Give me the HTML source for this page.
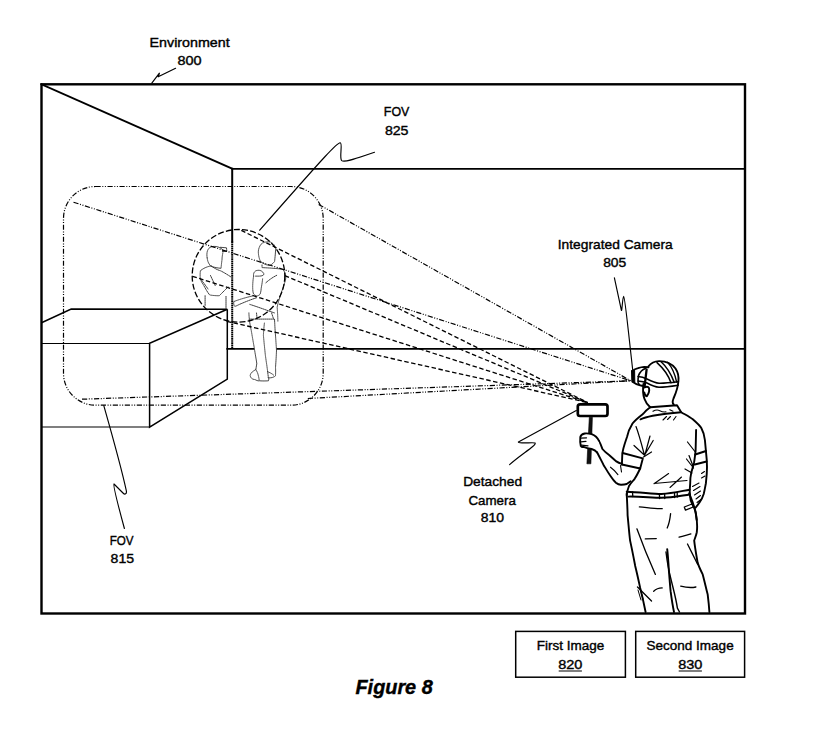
<!DOCTYPE html>
<html>
<head>
<meta charset="utf-8">
<style>
html,body{margin:0;padding:0;background:#fff;}
body{width:823px;height:741px;overflow:hidden;}
svg{display:block;}
text{font-family:"Liberation Sans",sans-serif;fill:#000;stroke:#000;stroke-width:0.4;}
</style>
</head>
<body>
<svg width="823" height="741" viewBox="0 0 823 741">
<rect x="0" y="0" width="823" height="741" fill="#fff"/>

<!-- room structure -->
<g fill="none" stroke="#000" stroke-linecap="square">
  <rect x="41.5" y="84.3" width="703.5" height="529.2" stroke-width="2.4"/>
  <path d="M41.5,84.3 L232.3,168.8" stroke-width="2"/>
  <path d="M232.3,168.8 L745,168.8" stroke-width="1.8"/>
  <path d="M232.2,168.8 L232.2,241.5" stroke-width="2"/>
  <path d="M232.2,241.5 L232.2,348" stroke-width="2" stroke-dasharray="1.6 0.5" stroke-linecap="butt"/>
  <path d="M227.3,348.9 L745,348.9" stroke-width="1.9"/>
</g>

<!-- box -->
<g fill="none" stroke="#000" stroke-width="1.5" stroke-linejoin="miter">
  <path d="M41.5,322.8 L71.2,309.1 L227.3,309.3 L149.6,343.2 L149.6,427.1 L227.3,379.2 L227.3,309.3"/>
  <path d="M41.5,343.5 L149.6,343.5" stroke-width="1.2"/>
  <path d="M41.5,427 L149.6,427" stroke-width="1.2"/>
</g>

<!-- people inside FOV 825 (dotted) -->
<g fill="none" stroke="#333" stroke-width="0.95" stroke-dasharray="1.1 0.9" stroke-linecap="round" stroke-linejoin="round">
  <path d="M207.2,257.9 C206.5,254 207,250.5 209,248.2 C211,246.3 215,245.6 219.8,247.6 C222,248.5 223.3,250 222.8,253 C222.3,256 222,258 222.1,259 C221.5,263 221.3,266 221,268.3 C217,268 213,267 210.6,266 C208.5,263.5 207.5,261 207.2,257.9"/>
  <path d="M220.5,247.3 L226.5,247.8 L226.8,251.5 L222.5,251.5"/>
  <path d="M211.2,266 C207,266.5 203,268.5 200.4,270.8 C200,274 200.1,277 200.4,278.9 C201,281 202,283 203.1,284.3 C205.5,288.5 207.5,292.5 209.8,295 C213,295.5 216.5,295.8 219.3,295.7 C222,293 225,290 228,287"/>
  <path d="M211.2,266 C214,268 217.5,270 220.6,270.8 C224,272.5 228,275 230.7,276.8"/>
  <path d="M205.1,295.7 L205.1,305.8 M226,296.4 L226,308.5"/>
  <path d="M210.5,275.5 L215.2,285.6 M200.5,279 C203,282 206,286 208,289"/>
  <!-- right person -->
  <path d="M258.4,253.2 C258,250 259.5,245 262.4,243.1 C265,241.8 268,241.6 270.5,242.1 C273.5,243.5 275.5,246 275.6,249.2 C275.5,253 275,257.5 274.6,261.4 C273,263.5 271.5,264.8 269.5,265.4 C266,265 263,263.5 260.4,261.4 C259.2,258.5 258.6,256 258.4,253.2"/>
  <path d="M262,265 L262.1,267.6 C270,268 278,268.5 282.9,269.4 C285,272 286,275.5 285.7,278.9 C285,282 284,285 282.9,288.3 C281.5,292 280,296 279.1,299.7 C278.3,302 277.6,305 277.2,307.2 C277.5,312 277.8,317 277.9,322"/>
  <path d="M253.6,276.1 C253,273 255,270.5 257.4,270.4 C259.5,270 262.5,270.5 264,274.2 C263,276 261,276.3 254.6,276.1"/>
  <path d="M253.6,276.1 C253,280 252.6,284 252.7,288.3 C252.8,290.5 253,292.5 253.6,294 C254.5,295 256,296 257.4,295.9 C258.5,295.5 259.5,295 260.2,294 C260.8,292 261.1,290 261.2,288.3 C261.8,285 262.3,282 262.6,278.9"/>
  <path d="M252.7,295.9 C246,297.5 239,299.5 233.8,301.6 C233.5,303.5 233.8,305.3 234.7,306.3 C236,306.2 237.5,305.3 239.4,304.4 C245,302 251,299.5 256.5,297.8"/>
  <path d="M249.8,304.4 C258,307 266,310 274.4,312.9 M248.9,312.9 C249,316 249.3,319 249.8,322.4 M256.5,313 L257.4,322 C262,322.5 266,322.5 270,322 M271.6,313 L274.4,321.5"/>
  <path d="M265.9,282.7 C269,280 273,277 277.2,275.1"/>
  <path d="M249.2,319.1 C249.8,323 250.5,327 251.2,330.2 C252.2,336 253.2,342 254.2,347.4 C255,353 256,358 256.8,363.6 L255.8,369.7 C253,371 250.5,373 250.2,375.5 C250.5,378 252.5,379.5 255,379.5 C256.5,380.5 258,381 259.3,380.8 C262.5,381 265.5,381 268.4,380.8 C269,379 268.8,378.3 268.4,377.8 C271,378 273.5,377.5 275.5,375.8 C275.7,371 275.6,369 275.5,367.7 C275.9,362 276.3,356 276.5,350.5 C276.2,345 275.8,340 275.5,335.3 C275,330 274.8,324 274.5,319.1 Z" fill="#fff"/>
  <path d="M264.4,323.1 C264,327 263.6,331 263.4,335.3 C264,342 264.7,349 265.4,355.5 C266,360 266.8,365 267.4,369.7 L268.4,377.8 M267.4,371.7 C270,372.5 272.5,374 274,375.5 M255.8,369.7 C257.5,372 258.5,375 259.3,380.8"/>
</g>

<!-- FOV 815 rounded rect -->
<rect x="63.5" y="186.5" width="259.7" height="218.7" rx="32" ry="32" fill="none" stroke="#000" stroke-width="1.2" stroke-dasharray="5.2 1.6 1 1.6 1 1.6"/>

<!-- FOV 825 circle -->
<circle cx="238.5" cy="275.8" r="46.3" fill="none" stroke="#000" stroke-width="1.3" stroke-dasharray="6 2.2"/>

<!-- dash-dot rays to integrated camera -->
<g fill="none" stroke="#000" stroke-width="1.2" stroke-dasharray="5.2 1.6 1 1.6 1 1.6">
  <path d="M73.5,202.2 L630.8,380.8"/>
  <path d="M318.7,204.4 L630.8,380.8"/>
  <path d="M82,399.2 L630.8,380.8"/>
  <path d="M307.8,398.5 L630.8,380.8"/>
</g>

<!-- dashed rays to detached camera -->
<g fill="none" stroke="#000" stroke-width="1.3" stroke-dasharray="4.5 2.5">
  <path d="M241.3,230.4 L587.8,402.6"/>
  <path d="M284.8,275.6 L587.8,402.6"/>
  <path d="M192.5,276.3 L587.8,402.6"/>
  <path d="M226.7,321.4 L587.8,402.6"/>
</g>

<!-- leaders -->
<g fill="none" stroke="#000" stroke-width="1.15" stroke-linecap="round" stroke-linejoin="round">
  <path d="M175.6,68.3 L158.2,76.8 L159.4,73.2 L151.8,83.2"/>
  <path d="M374.5,152.3 C360,157 345,163 341.7,160.6 C339,158 343,143 340.2,142.7 C337,143 330,150 259.7,230.2"/>
  <path d="M614.4,277.8 L621.4,310.4 C622,312 622.5,297 623.7,296.4 C625,297 627,320 633,372.5"/>
  <path d="M576.3,410.5 L518.4,442.1 C520,444 533,442 535.1,443 C537,445 520,455 509.6,464.6"/>
  <path d="M103.8,405.7 C109,424 121,466 126.3,490.7 C127,494 125,495 123,493 L114,484 C113,485 118,505 124.4,528.5"/>
</g>





<!-- phone -->
<g fill="none" stroke="#000" stroke-linejoin="round">
  <rect x="577.8" y="404.4" width="29.7" height="11.6" rx="2.2" stroke-width="2.7"/>
  <path d="M592.4,417.3 L589.3,417.3 L586.9,463.8 L590.9,463.8 Z" fill="#111" stroke-width="0.6"/>
</g>
<!-- person with headset (right) -->
<g fill="none" stroke="#000" stroke-width="1.9" stroke-linecap="round" stroke-linejoin="round">
  <!-- skull -->
  <path d="M648.5,366.3 C651,363 655,361.2 659,361.1 C667,361 672.5,364.5 675.5,368.5 C678.2,372.5 678.8,377 678.4,381 C678,388 675.5,394 673.5,398.5 C672.3,401.5 672.6,403.6 673.8,404.6"/>
  <!-- head left / neck -->
  <path d="M643.4,384 C642.8,389 643,395 644.4,398.7 C645.5,402 647.8,405 650.2,407.2"/>
  <!-- strap -->
  <path d="M638,376.5 C641.5,376.8 644.5,377.8 647,379 C651,381 655,383 659,383.3 C665,383.5 672,382.6 678.4,381.8" stroke-width="1.5"/>
  <path d="M638,381 C641.5,381.2 644.5,381.8 647,383 C651,385.2 655,387 659,387.2 C665,387.2 672,386.2 678.2,385.2" stroke-width="1.5"/>
  <!-- cap stripes -->
  <path d="M657,362.6 C663,368 668,374 671,382.8" stroke-width="1.5"/>
  <path d="M661.3,362 C667,367 671,374 674.3,382.4" stroke-width="1.5"/>
  <path d="M667.5,362.2 C672,367 675,374 676.6,382" stroke-width="1.3"/>
  <!-- headset -->
  <path d="M632.1,370.9 C634,369.5 636,368.6 638.1,368.1 C640,367.5 642,367 644.2,366.9 C645.5,366.9 647,367 648.5,367.3" stroke-width="1.9"/>
  <path d="M632.1,370.9 L632.5,381.8 C634.5,383.3 637,384.5 639.4,385.1 C641,385.6 642.5,385.9 644,385.9" stroke-width="2"/>
  <path d="M645.4,368.5 C642.5,369.5 640,372 638.6,375.4 C638,378 637.9,381 638.2,382.5 C638.5,383.5 639,384.3 639.4,384.9" stroke-width="1.6"/>
  <path d="M632.1,370.9 L634.6,370.2 L634.8,382.6 L632.5,381.8 Z" fill="#000" stroke-width="1"/>
  <path d="M646.6,369.5 C646,375 645.2,381 644.6,386.3" stroke-width="2.3"/>
  <!-- ear -->
  <path d="M644.4,387.6 C646,386.4 648.2,386.3 648.9,387.8 C649.6,390.2 648.5,394 646.9,396.2 C645.4,396 644.6,394.5 644.3,392.5"/>
  <!-- collar -->
  <path d="M650.2,407.2 L677,405.3 L681.2,412.2 C672,413 660,414.5 652.7,415.8 C648,416.8 643.5,418 640.5,419.3"/>
  <path d="M653,411.3 C655.5,409.8 657.5,409.5 659.8,410.7 C662,411.8 664,412.2 666,411.8 M669.8,409.8 L673,411.2" stroke-width="1.1"/>
  <path d="M663,420 L666.5,416.5 M667.5,419.5 L670.5,416.5 M673.5,420 L676,416.5" stroke-width="1.1"/>
  <!-- left shoulder + sleeve -->
  <path d="M650.2,407.2 C647,409.5 645,411.5 643.5,413.5 C639,417 635,420 632.5,423.5 C630,427.5 628,432 627,437 C625,443 623,448 622.3,454 L621.9,464.5"/>
  <path d="M622.6,453 L642.8,458.4 L640.2,468.5 L621.9,464.5"/>
  <path d="M636,426.5 C638.5,433 641,442 644.3,454.5 M634,445.5 L644.3,455 M650,436 L645,454.5 M653.2,440.5 L645.5,453.5 M651.5,452 L643.5,457" stroke-width="1.2"/>
  <!-- body left below sleeve -->
  <path d="M640.2,468.5 C638,473 636.5,476 634.8,478.6 C632.5,481.5 630.5,483.5 629,486 C627.8,489 627,492 626.7,495"/>
  <!-- right shoulder + sleeve -->
  <path d="M681.2,412.2 C686,415 690,417 692.8,419.3 C697,423 700,426 701.3,428 C703.5,432 704.5,436 704.9,440 L705.9,450.8 C706.5,456 707,462 707,467 C707,473 706.5,478 705.9,483.2 C705,488 704.5,491 703.7,494 C702.5,498 701,500.5 699.4,502.6 C698,505 696.5,506.5 695.6,507.5"/>
  <path d="M695.2,454.5 L706,451 M694.8,464.5 L706.6,461.5"/>
  <path d="M696.1,430 L695.6,450.8 C695,456 694.5,460 694,462.7 C693,467 692,470 691.3,472.4 C690.5,476 690.2,480 690.2,483.2 L689.7,490.7 C689.8,494 690,497 690.7,500.5 C691.5,503 692.8,505 694,506.9 C695,509.5 695.8,512.5 696.1,515.6 L696.7,520"/>
  <path d="M687.5,442 L695.3,452 M686.5,459 L693.5,468 M685,469 L692,473 M689,455.5 L693,466" stroke-width="1.2"/>
  <path d="M701.5,473.5 L704.5,471.5 M701.5,478 L705,476 M692.5,486.5 L699,483 M693.5,490.5 L700,486.5 M694.5,495 L700.5,491 M696,499 L700.5,495.5 M697,502.5 L701,499.5" stroke-width="1.1"/>
  <!-- shirt wrinkles -->
  <path d="M654,483.7 L668.6,473.5 M654,483.5 L687,480.5 M670,487.5 L681.5,477" stroke-width="1.1"/>
  <!-- belt -->
  <path d="M626.7,491.7 C640,492 652,494 661.6,494 C672,493.5 682,491 689.7,489.7"/>
  <path d="M628.3,496.6 C640,496.3 652,497.8 661.6,497.8 C672,497.5 682,495.5 689.7,494.5"/>
  <path d="M632.5,491.8 L632.8,496.5 M659.4,494 L659.6,498.5 M664.6,493.8 L664.8,498.5 M674.5,492.6 L674.6,497.5 M677.2,492 L677.3,497" stroke-width="1.3"/>
  <path d="M684.3,507 L692,504 L693.2,507 L685.5,510.2 Z" stroke-width="1.3"/>
  <!-- legs -->
  <path d="M626.7,493.4 C627,500 627.5,508 627.6,515.3 C628.5,524 629,532 630.1,540.6 C632,549 633.5,557 635.2,565.9 C637,573 638.5,580 640.2,587.9 C642,595 644,604 645.6,612"/>
  <path d="M667.2,549.1 C668,556 668.5,564 668.9,571 C669.5,578 670,585 670.6,591.2 C671.5,598 672.5,605 674,612"/>
  <path d="M666,552 C667,560 668,568 670.6,577.7 C673,588 676,598 677.4,608.1 L679.5,612" stroke-width="1.4"/>
  <path d="M689.2,493.4 C692,500 694.5,507 695.9,513.6 C697,520 697.5,527 696.8,532.2 C696,536 694.8,538.5 694.2,540.6 C695,548 696.5,556 697.6,562.6 C699,567 701,571 702.7,574.4 C704.5,581 706,588 707.7,594.6 C708.5,601 709,606 709.4,612"/>
  <path d="M639.4,506.9 C647,507.5 655,509 662.2,508.6 M670.6,513.6 C670,519 669,524 667.2,528 M645.3,538.9 L656.3,538.6 M679.1,537.2 C683,536 687,535 690.9,533.9 M636.9,528.8 C642,543 648,558 655.4,574.4 M687.5,544 C691,551 694,557 697.6,564.2 M680.7,586.2 C686,587.5 691,588 695.9,587 M653.7,591.2 C656,589 659,588 662.2,587.9 M637.5,587 L651.5,601" stroke-width="1.3"/>
  <path d="M638,590 L641,600 M640,588 L643,599" stroke-width="1"/>
  <!-- left arm -->
  <path d="M599,440.9 C600.5,443.5 601.5,446.5 602.4,449 C604.5,451.5 607,453.5 609.1,455 C611.5,457 613.5,459 615.9,461.1 C618,462.5 620,463.3 621.9,463.8"/>
  <path d="M597,452.3 C599,456 601.5,461 603.7,465.2 C606,469 608,472.5 610.5,476 C612.5,479 614,481 615.9,482.7 C617.5,484 619.5,484.8 621.3,484.7 C623.5,484.6 625.5,484.3 626.7,484 C628,483.2 629.5,482.2 630.7,481.3"/>
  <path d="M610.5,467.2 C613,469 616,472 617.9,474.6 M620.5,465.5 L621.5,472" stroke-width="1.1"/>
  <!-- hand -->
  <path fill="#fff" d="M599,440.9 C597.5,437.5 595.5,435.5 591.6,434.1 C589,433.5 586.5,433.3 584.8,433.5 C582.5,434 580.8,435 580.3,437 C580,440 580.2,443.5 580.8,446 C581.5,447 582.5,447.3 583.5,446.9 C586,448 589,448.7 591.6,449 C594,449.7 595.8,450.8 597,452.3"/>
  <path d="M580.6,438.2 L586.5,437.8 M580.8,441.8 L586,441.3 M581.5,445.2 L588,445.8" stroke-width="1.2"/>
</g>


<!-- labels -->
<g font-size="13.5" text-anchor="middle">
  <text x="189.6" y="46.9" textLength="80.1" lengthAdjust="spacingAndGlyphs">Environment</text>
  <text x="189.6" y="65.1" textLength="24.1" lengthAdjust="spacingAndGlyphs">800</text>
  <text x="396.6" y="116.4" textLength="25.5" lengthAdjust="spacingAndGlyphs">FOV</text>
  <text x="396.7" y="134.8" textLength="23.6" lengthAdjust="spacingAndGlyphs">825</text>
  <text x="615.2" y="248.8" textLength="114.9" lengthAdjust="spacingAndGlyphs">Integrated Camera</text>
  <text x="614.7" y="266.7" textLength="23.1" lengthAdjust="spacingAndGlyphs">805</text>
  <text x="492.6" y="486.3" textLength="58.9" lengthAdjust="spacingAndGlyphs">Detached</text>
  <text x="492.1" y="504.7" textLength="47.4" lengthAdjust="spacingAndGlyphs">Camera</text>
  <text x="492.3" y="522.3" textLength="23.3" lengthAdjust="spacingAndGlyphs">810</text>
  <text x="121.6" y="545" textLength="23.9" lengthAdjust="spacingAndGlyphs">FOV</text>
  <text x="122.3" y="563.4" textLength="23.5" lengthAdjust="spacingAndGlyphs">815</text>
  <text x="570.5" y="650" textLength="67.3" lengthAdjust="spacingAndGlyphs">First Image</text>
  <text x="570.3" y="668.7" textLength="24.2" lengthAdjust="spacingAndGlyphs">820</text>
  <text x="690.1" y="650" textLength="87.1" lengthAdjust="spacingAndGlyphs">Second Image</text>
  <text x="690.3" y="668.7" textLength="24.2" lengthAdjust="spacingAndGlyphs">830</text>
</g>
<text x="394.1" y="693.7" font-size="19.6" font-weight="bold" font-style="italic" text-anchor="middle" textLength="77.2" lengthAdjust="spacingAndGlyphs">Figure 8</text>

<!-- bottom boxes -->
<g fill="none" stroke="#000" stroke-width="1.5">
  <rect x="515.7" y="631.4" width="109.7" height="45.8"/>
  <rect x="635.7" y="631.4" width="108.9" height="45.8"/>
  <path d="M558.7,671 L581.9,671 M678.7,671 L701.9,671" stroke-width="1.1"/>
</g>

</svg>
</body>
</html>
